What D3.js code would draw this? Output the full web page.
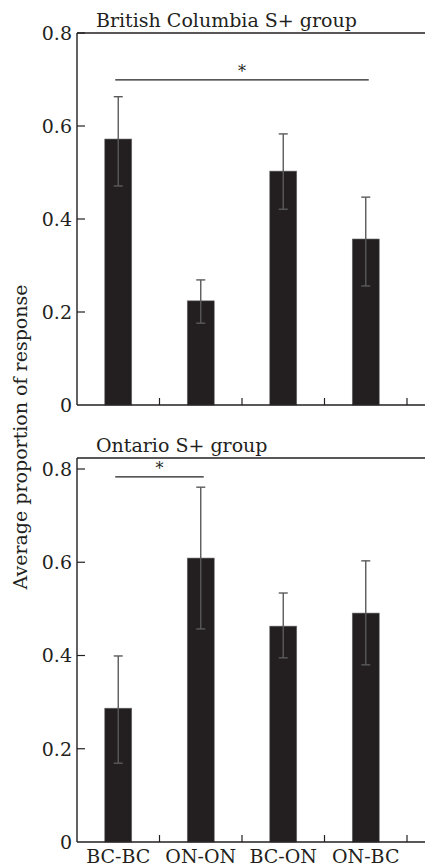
<!DOCTYPE html>
<html>
<head>
<meta charset="utf-8">
<script src="https://cdn.jsdelivr.net/npm/d3@7"></script>
<style>
	body { margin: 0; background: #fff; }
	svg { display: block; }
	text { font-family: "DejaVu Serif", serif; fill: #231f20; }
</style>
</head>
<body>
<svg id="chart" width="425" height="867"></svg>
<script>
// data
const categories = ["BC-BC", "ON-ON", "BC-ON", "ON-BC"];
const yTicks = [0, 0.2, 0.4, 0.6, 0.8];

const bcMeans = [0.572, 0.224, 0.503, 0.357];
const bcLower = [0.471, 0.176, 0.421, 0.256];
const bcUpper = [0.663, 0.269, 0.583, 0.447];
const bcSig = ["BC-BC", "ON-BC", 0.699];

const onMeans = [0.287, 0.609, 0.463, 0.491];
const onLower = [0.169, 0.457, 0.395, 0.380];
const onUpper = [0.399, 0.761, 0.534, 0.603];
const onSig = ["BC-BC", "ON-ON", 0.783];

const svg = d3.select("#chart");
const left = 77, right = 425;

const x = d3.scaleBand()
	.domain(categories)
	.range([left, 407])
	.paddingInner(0.673)
	.paddingOuter(0.3365);

function drawPanel(title, means, lower, upper, sig, top, yTop, yBottom, showLabels) {
	let y = d3.scaleLinear().domain([0, 0.8]).range([yBottom, yTop]);
	let g = svg.append("g");
	let rows = categories.map((c, i) => ({cat: c, mean: means[i], lo: lower[i], hi: upper[i]}));

	// bars
	g.selectAll("rect.bar")
		.data(rows)
		.enter()
		.append("rect")
		.attr("class", "bar")
		.attr("x", d => x(d.cat))
		.attr("width", x.bandwidth())
		.attr("y", d => y(d.mean))
		.attr("height", d => y(0) - y(d.mean))
		.attr("fill", "#231f20")
		.attr("stroke", "#6d6d6d")
		.attr("stroke-width", 0.6);

	// error bars
	let cx = d => x(d.cat) + x.bandwidth() / 2;
	let err = g.selectAll("g.err").data(rows).enter().append("g").attr("class", "err")
		.attr("stroke", "#5a5a5a").attr("stroke-width", 1.4);
	err.append("line")
		.attr("x1", cx).attr("x2", cx)
		.attr("y1", d => y(d.hi)).attr("y2", d => y(d.lo));
	err.append("line")
		.attr("x1", d => cx(d) - 4.5).attr("x2", d => cx(d) + 4.5)
		.attr("y1", d => y(d.hi)).attr("y2", d => y(d.hi));
	err.append("line")
		.attr("x1", d => cx(d) - 4.5).attr("x2", d => cx(d) + 4.5)
		.attr("y1", d => y(d.lo)).attr("y2", d => y(d.lo));

	// frame: left axis, top line, baseline
	let axisStroke = "#231f20";
	g.append("line").attr("x1", left).attr("x2", left).attr("y1", top).attr("y2", y(0))
		.attr("stroke", axisStroke).attr("stroke-width", 1.4);
	g.append("line").attr("x1", left).attr("x2", right).attr("y1", top).attr("y2", top)
		.attr("stroke", axisStroke).attr("stroke-width", 1.4);
	g.append("line").attr("x1", left).attr("x2", right).attr("y1", y(0)).attr("y2", y(0))
		.attr("stroke", axisStroke).attr("stroke-width", 1.4);

	// y ticks (inward) + labels
	g.selectAll("line.ytick")
		.data(yTicks.filter(t => t > 0))
		.enter()
		.append("line")
		.attr("class", "ytick")
		.attr("x1", left).attr("x2", left + 8)
		.attr("y1", d => y(d)).attr("y2", d => y(d))
		.attr("stroke", axisStroke).attr("stroke-width", 1.2);
	g.selectAll("text.ylab")
		.data(yTicks)
		.enter()
		.append("text")
		.attr("class", "ylab")
		.attr("x", 72)
		.attr("y", d => y(d))
		.attr("dy", "0.36em")
		.attr("text-anchor", "end")
		.style("font-size", "19px")
		.text(d => d === 0 ? "0" : d3.format(".1f")(d));

	// x ticks at band boundaries, pointing up
	g.selectAll("line.xtick")
		.data(categories)
		.enter()
		.append("line")
		.attr("class", "xtick")
		.attr("x1", d => x(d) + x.bandwidth() + x.step() * x.paddingInner() / 2)
		.attr("x2", d => x(d) + x.bandwidth() + x.step() * x.paddingInner() / 2)
		.attr("y1", y(0)).attr("y2", y(0) - 7)
		.attr("stroke", axisStroke).attr("stroke-width", 1.2);

	if (showLabels) {
		g.selectAll("text.xlab")
			.data(categories)
			.enter()
			.append("text")
			.attr("class", "xlab")
			.attr("x", d => x(d) + x.bandwidth() / 2)
			.attr("y", y(0) + 21)
			.attr("text-anchor", "middle")
			.style("font-size", "19px")
			.text(d => d);
	}

	// significance bracket
	let sx1 = x(sig[0]) + x.bandwidth() / 2 - 3;
	let sx2 = x(sig[1]) + x.bandwidth() / 2 + 3;
	g.append("line")
		.attr("x1", sx1).attr("x2", sx2)
		.attr("y1", y(sig[2])).attr("y2", y(sig[2]))
		.attr("stroke", "#231f20").attr("stroke-width", 1.3);
	g.append("text")
		.attr("x", (sx1 + sx2) / 2)
		.attr("y", y(sig[2]) - 3)
		.attr("text-anchor", "middle")
		.style("font-size", "16px")
		.text("*");

	// panel title
	g.append("text")
		.attr("x", 96)
		.attr("y", top - 6)
		.style("font-size", "19px")
		.text(title);
}

drawPanel("British Columbia S+ group", bcMeans, bcLower, bcUpper, bcSig, 33, 33, 405, false);
drawPanel("Ontario S+ group", onMeans, onLower, onUpper, onSig, 458, 469, 842, true);

svg.append("text")
	.attr("transform", "translate(27,437) rotate(-90)")
	.attr("text-anchor", "middle")
	.style("font-size", "19px")
	.text("Average proportion of response");
</script>
</body>
</html>
